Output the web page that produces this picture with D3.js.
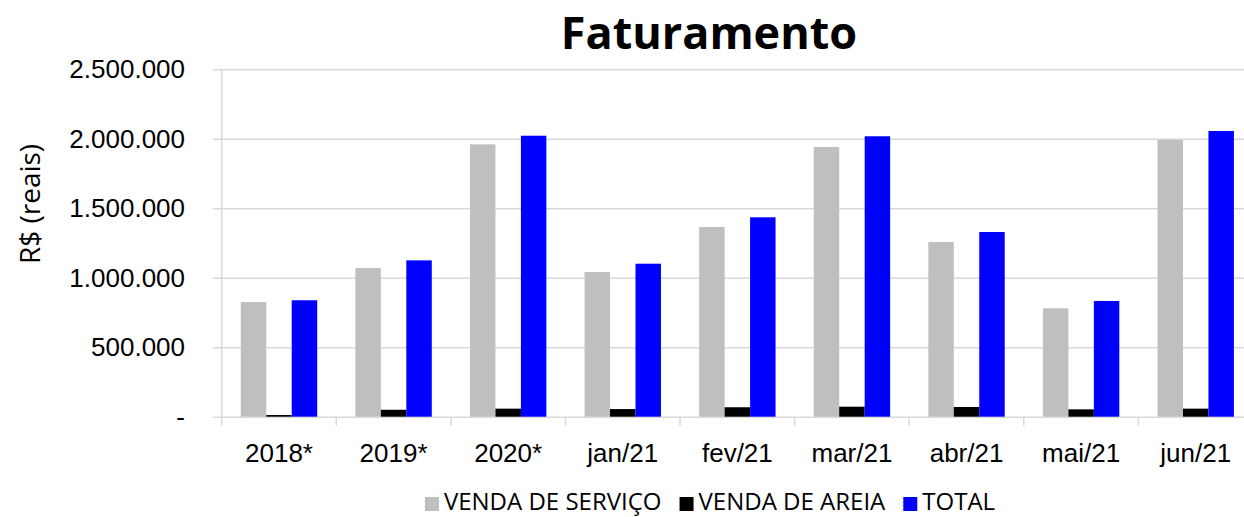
<!DOCTYPE html>
<html>
<head>
<meta charset="utf-8">
<script src="https://cdn.jsdelivr.net/npm/d3@7"></script>
<style>
  body { margin: 0; background: #fff; }
  svg { display: block; font-family: "Open Sans", sans-serif; }
</style>
</head>
<body>
<div id="chart"></div>
<script>
// dados
const categorias = ["2018*", "2019*", "2020*", "jan/21", "fev/21", "mar/21", "abr/21", "mai/21", "jun/21"];
const vendaServico = [825000, 1070000, 1960000, 1041000, 1365000, 1941000, 1257000, 780000, 1993000];
const vendaAreia = [12000, 50000, 58000, 55000, 68000, 72000, 70000, 53000, 58000];
const total = [838000, 1125000, 2022000, 1101000, 1435000, 2018000, 1329000, 833000, 2056000];
const yTicks = [0, 500000, 1000000, 1500000, 2000000, 2500000];
const series = ["VENDA DE SERVIÇO", "VENDA DE AREIA", "TOTAL"];
const cores = ["#bfbfbf", "#000000", "#0000ff"];

const width = 1244, height = 517;
const margin = { left: 221.7, right: -9, top: 69.3, bottom: 100.3 };
const innerW = width - margin.left - margin.right;
const innerH = height - margin.top - margin.bottom;

const locale = d3.formatLocale({ decimal: ",", thousands: ".", grouping: [3], currency: ["R$", ""] });
const fmt = locale.format(",.0f");

const svg = d3.select("#chart").append("svg")
  .attr("width", width)
  .attr("height", height);

const g = svg.append("g")
  .attr("transform", "translate(" + margin.left + "," + margin.top + ")");

const x = d3.scaleBand().domain(categorias).range([0, innerW]).padding(0);
const xs = d3.scaleBand().domain(series).range([0, x.bandwidth()]).paddingInner(0).paddingOuter(0.75);
const y = d3.scaleLinear().domain([0, 2500000]).range([innerH, 0]);

// grade horizontal
const yAxis = d3.axisLeft(y)
  .tickValues(yTicks)
  .tickSize(-innerW)
  .tickFormat(d => d === 0 ? "-" : fmt(d));
const gy = g.append("g").attr("class", "axis y").call(yAxis);
gy.select(".domain").remove();
gy.selectAll(".tick line")
  .attr("x1", -9)
  .attr("stroke", "#d9d9d9")
  .attr("stroke-width", 1.5);
gy.selectAll(".tick text")
  .attr("x", -36.7)
  .attr("font-size", 26)
  .attr("fill", "#000");

// linha vertical do eixo
g.append("line")
  .attr("x1", 0).attr("x2", 0)
  .attr("y1", 0).attr("y2", innerH)
  .attr("stroke", "#d9d9d9")
  .attr("stroke-width", 1.5);

// eixo x
const xAxis = d3.axisBottom(x).tickSize(0).tickPadding(27);
const gx = g.append("g")
  .attr("class", "axis x")
  .attr("transform", "translate(0," + innerH + ")")
  .call(xAxis);
gx.select(".domain").remove();
gx.selectAll(".tick text")
  .attr("font-size", 26)
  .attr("fill", "#000");
// marcas entre categorias
g.append("g").selectAll("line")
  .data(d3.range(categorias.length + 1))
  .join("line")
  .attr("x1", i => i * x.step())
  .attr("x2", i => i * x.step())
  .attr("y1", innerH)
  .attr("y2", innerH + 9)
  .attr("stroke", "#d9d9d9")
  .attr("stroke-width", 1.5);

// barras
const valores = [vendaServico, vendaAreia, total];
series.forEach((s, si) => {
  g.append("g").selectAll("rect")
    .data(valores[si])
    .join("rect")
    .attr("x", (d, i) => x(categorias[i]) + xs(s))
    .attr("width", xs.bandwidth())
    .attr("y", d => y(d))
    .attr("height", d => y(0) - y(d))
    .attr("fill", cores[si]);
});

// título
svg.append("text")
  .attr("x", 709)
  .attr("y", 49)
  .attr("text-anchor", "middle")
  .attr("font-size", 45)
  .attr("font-weight", "bold")
  .text("Faturamento");

// título do eixo y
svg.append("text")
  .attr("transform", "translate(40,204) rotate(-90)")
  .attr("text-anchor", "middle")
  .attr("font-size", 28)
  .text("R$ (reais)");

// legenda
const legenda = svg.append("g");
let lx = 0;
series.forEach((s, i) => {
  const item = legenda.append("g").attr("transform", "translate(" + lx + ",0)");
  item.append("rect")
    .attr("x", 0).attr("y", -13)
    .attr("width", 14).attr("height", 14)
    .attr("fill", cores[i]);
  const t = item.append("text")
    .attr("x", 19)
    .attr("y", 0)
    .attr("font-size", 24)
    .text(s);
  lx += 19 + t.node().getComputedTextLength() + 18;
});
const legW = lx - 18;
legenda.attr("transform", "translate(" + (710 - legW / 2) + ",510)");
</script>
</body>
</html>
